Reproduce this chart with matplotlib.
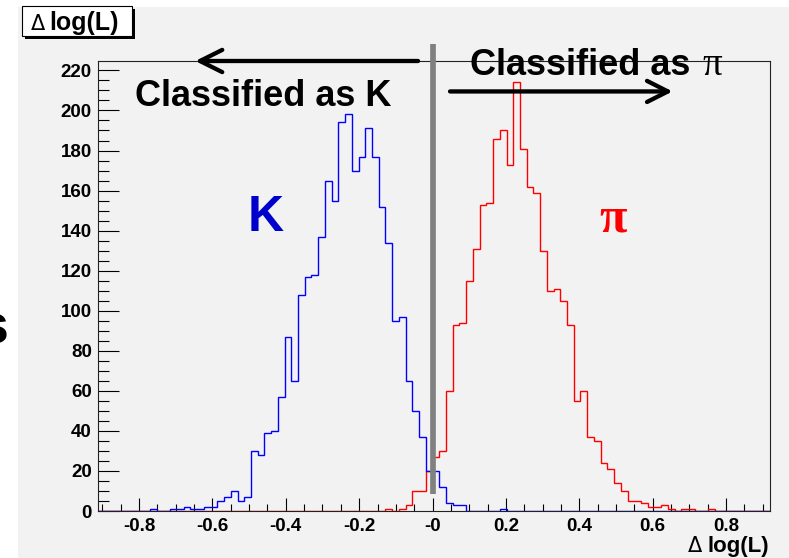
import numpy as np
import matplotlib
matplotlib.use("Agg")
import matplotlib.pyplot as plt
from matplotlib.patches import Rectangle
from matplotlib.ticker import MultipleLocator, FixedLocator, FixedFormatter

plt.rcParams['font.family'] = ['Liberation Sans', 'DejaVu Sans']

# histogram binning: 120 bins over [-1.1, 1.1]
bin_edges = np.linspace(-1.1, 1.1, 121)

# K counts, bins starting at bin index -42 (relative to 0)
k_first = -42
k_counts = [1, 0, 0, 1, 1, 2, 1, 1, 2, 2,
            5, 7, 10, 5, 7, 30, 28, 39, 40, 57,
            87, 65, 108, 117, 118, 137, 165, 155, 194, 198,
            170, 177, 191, 177, 152, 134, 95, 97, 65, 50,
            37, 20, 20, 12, 4, 3, 3, 0, 0, 0,
            0, 0, 1]

# pi counts, bins starting at bin index -7
pi_first = -7
pi_counts = [1, 0, 1, 3, 10, 10, 20, 27, 30, 60,
             93, 94, 115, 131, 153, 154, 186, 190, 173, 214,
             181, 162, 159, 130, 110, 111, 105, 93, 55, 60,
             37, 35, 24, 21, 14, 10, 5, 5, 4, 2,
             2, 3, 1, 0, 1, 1, 0, 0, 1]

xtick_vals = [-0.8, -0.6, -0.4, -0.2, 0.0, 0.2, 0.4, 0.6, 0.8]
xtick_labels = ['-0.8', '-0.6', '-0.4', '-0.2', '-0', '0.2', '0.4', '0.6', '0.8']

def full(first, counts):
    h = np.zeros(len(bin_edges) - 1)
    i0 = first + 60
    h[i0:i0 + len(counts)] = counts
    return h

W, H = 789, 558
fig = plt.figure(figsize=(W / 100, H / 100), dpi=100)
fig.patch.set_facecolor('white')
fig.patches.append(Rectangle((18 / W, 0), 1, 1 - 7 / H, transform=fig.transFigure,
                             facecolor='#f2f2f2', edgecolor='none', zorder=-10))

ax = fig.add_axes([98 / W, 1 - 511 / H, (770 - 98) / W, (511 - 61) / H])
ax.set_facecolor('#f2f2f2')

ax.stairs(full(pi_first, pi_counts), bin_edges, color='#ff0000', lw=1.0, zorder=3)
ax.stairs(full(k_first, k_counts), bin_edges, color='#0000ff', lw=1.0, zorder=3.1)

# cut line at 0
ax.plot([0, 0], [8.5, 233], color='#808080', lw=4.1, solid_capstyle='butt',
        clip_on=False, zorder=4)

ax.set_xlim(-0.912, 0.92)
ax.set_ylim(0, 224.7)

ax.xaxis.set_major_locator(FixedLocator(xtick_vals))
ax.xaxis.set_major_formatter(FixedFormatter(xtick_labels))
ax.xaxis.set_minor_locator(MultipleLocator(0.05))
ax.yaxis.set_major_locator(MultipleLocator(20))
ax.yaxis.set_minor_locator(MultipleLocator(5))
ax.tick_params(axis='both', which='both', direction='in', colors='black', width=0.8,
               top=False, right=False)
ax.tick_params(axis='x', which='major', length=9.7, pad=5, labelsize=13.5)
ax.tick_params(axis='x', which='minor', length=4.9)
ax.tick_params(axis='y', which='major', length=15, pad=4.5, labelsize=13.5)
ax.tick_params(axis='y', which='minor', length=7.6)
for lab in ax.get_xticklabels() + ax.get_yticklabels():
    lab.set_fontweight('bold')
for sp in ax.spines.values():
    sp.set_linewidth(0.8)
    sp.set_color('#222222')

def fx(x):
    return x / W

def fy(y):
    return 1 - y / H

# arrows
ax.annotate('', xy=(-0.647, 224.7), xytext=(-0.0395, 224.7), annotation_clip=False,
            arrowprops=dict(arrowstyle='->,head_length=0.8,head_width=0.4', lw=3.1,
                            color='black', mutation_scale=20, shrinkA=0, shrinkB=0))
ax.annotate('', xy=(0.6545, 209.5), xytext=(0.0477, 209.5), annotation_clip=False,
            arrowprops=dict(arrowstyle='->,head_length=0.75,head_width=0.38', lw=3.1,
                            color='black', mutation_scale=20, shrinkA=0, shrinkB=0))

fig.text(fx(135), fy(106), 'Classified as K', fontsize=26, fontweight='bold',
         ha='left', va='baseline')
fig.text(fx(470), fy(75), 'Classified as ', fontsize=26, fontweight='bold',
         ha='left', va='baseline')
fig.text(fx(702), fy(75), 'π', fontsize=28, family='Liberation Serif',
         ha='left', va='baseline')

fig.text(fx(248), fy(231), 'K', fontsize=36, fontweight='bold', color='#0000cc',
         ha='left', va='baseline')
fig.text(fx(599), fy(232), 'π', fontsize=36, fontweight='bold', color='#ff0000',
         family='Liberation Serif', ha='left', va='baseline')

# clipped letter at left edge
fig.text(fx(8), fy(343), 's', fontsize=40, fontweight='bold', ha='right', va='baseline')

# title box with shadow
fig.patches.append(Rectangle((fx(25), fy(39)), fx(110), 30 / H, transform=fig.transFigure,
                             facecolor='black', edgecolor='none', zorder=5))
fig.patches.append(Rectangle((fx(22), fy(36)), fx(110), 30 / H, transform=fig.transFigure,
                             facecolor='white', edgecolor='black', lw=0.8, zorder=6))
fig.text(fx(31), fy(30), 'Δ', fontsize=15, family='DejaVu Sans',
         ha='left', va='baseline', zorder=7)
fig.text(fx(49), fy(30), 'log(L)', fontsize=18, fontweight='bold',
         ha='left', va='baseline', zorder=7)

# x axis title
fig.text(fx(688), fy(552), 'Δ', fontsize=15, family='DejaVu Sans',
         ha='left', va='baseline')
fig.text(fx(769), fy(552), 'log(L)', fontsize=16, fontweight='bold',
         ha='right', va='baseline')

fig.savefig('out.png', dpi=100, facecolor=fig.get_facecolor())
